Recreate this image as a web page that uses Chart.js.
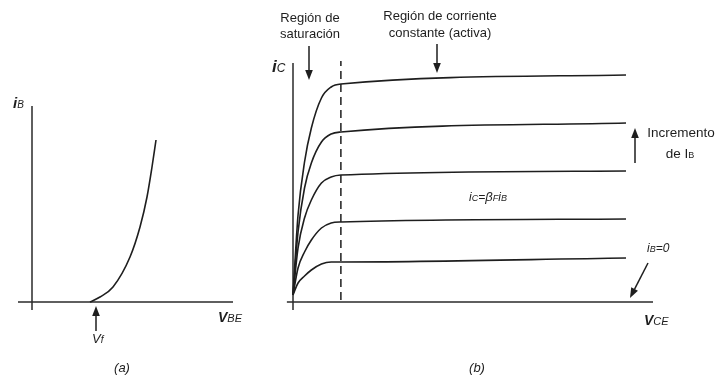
<!DOCTYPE html>
<html>
<head>
<meta charset="utf-8">
<title>Curvas del transistor BJT</title>
<script src="https://cdn.jsdelivr.net/npm/chart.js@4.4.1/dist/chart.umd.min.js"></script>
<style>
    html, body { margin: 0; padding: 0; background: #fff; }
    #wrap { position: relative; width: 719px; height: 377px; }
    #wrap canvas { position: absolute; left: 0; top: 0; }
</style>
</head>
<body>
<div id="wrap">
    <canvas id="chartA" width="719" height="377"></canvas>
    <canvas id="chartB" width="719" height="377"></canvas>
</div>
<script>
// (a) curva de entrada iB - vBE
const vbe = [5.8, 6.8, 8.1, 9.8, 10.8, 11.5, 12.0, 12.4];
const ib = [0, 0.5, 1.5, 4.5, 7.5, 10.5, 13.5, 16.2];

// (b) curvas de salida iC - vCE
const vce = [0, 0.14, 0.32, 0.51, 0.79, 1.06, 1.33, 9.25];
const ic1 = [0.7, 8.7, 14.0, 17.4, 20.4, 21.5, 21.8, 22.7];
const ic2 = [0.7, 7.0, 11.4, 13.9, 16.0, 16.8, 17.0, 17.9];
const ic3 = [0.7, 5.4, 8.4, 10.2, 11.9, 12.5, 12.7, 13.1];
const ic4 = [0.7, 3.4, 5.0, 6.2, 7.4, 7.9, 8.0, 8.3];
const ic5 = [0.7, 1.9, 2.6, 3.2, 3.8, 4.0, 4.0, 4.4];
const vceSat = 1.33;

const ink = '#1e1e1e';
const font = '"Liberation Sans", Arial, Helvetica, sans-serif';

function toPoints(xs, ys) {
    return xs.map((x, i) => ({ x: x, y: ys[i] }));
}

function curve(points) {
    return {
        data: points,
        showLine: true,
        borderColor: ink,
        borderWidth: 1.6,
        pointRadius: 0,
        cubicInterpolationMode: 'monotone'
    };
}

function axisLine(points) {
    return {
        data: points,
        showLine: true,
        borderColor: '#2a2a2a',
        borderWidth: 1.5,
        pointRadius: 0,
        tension: 0
    };
}

// text made of pieces with different sizes (subscripts)
function richText(ctx, parts, x, y, align) {
    let w = 0;
    parts.forEach(p => {
        ctx.font = (p[2] || '') + ' ' + p[1] + 'px ' + font;
        w += ctx.measureText(p[0]).width;
    });
    let cx = align === 'center' ? x - w / 2 : x;
    ctx.textAlign = 'left';
    ctx.textBaseline = 'alphabetic';
    ctx.fillStyle = ink;
    parts.forEach(p => {
        ctx.font = (p[2] || '') + ' ' + p[1] + 'px ' + font;
        ctx.fillText(p[0], cx, y);
        cx += ctx.measureText(p[0]).width;
    });
}

function arrow(ctx, x1, y1, x2, y2) {
    const a = Math.atan2(y2 - y1, x2 - x1);
    const len = 10, half = 3.8;
    ctx.save();
    ctx.strokeStyle = ink;
    ctx.fillStyle = ink;
    ctx.lineWidth = 1.5;
    ctx.beginPath();
    ctx.moveTo(x1, y1);
    ctx.lineTo(x2 - len * Math.cos(a), y2 - len * Math.sin(a));
    ctx.stroke();
    ctx.beginPath();
    ctx.moveTo(x2, y2);
    ctx.lineTo(x2 - len * Math.cos(a) + half * Math.sin(a), y2 - len * Math.sin(a) - half * Math.cos(a));
    ctx.lineTo(x2 - len * Math.cos(a) - half * Math.sin(a), y2 - len * Math.sin(a) + half * Math.cos(a));
    ctx.closePath();
    ctx.fill();
    ctx.restore();
}

const baseOptions = (padLeft, padRight, xMin, xMax) => ({
    responsive: false,
    animation: false,
    events: [],
    layout: { padding: { left: padLeft, right: padRight, top: 42, bottom: 55 } },
    scales: {
        x: { type: 'linear', min: xMin, max: xMax, display: false },
        y: { type: 'linear', min: -2, max: 26, display: false }
    },
    plugins: {
        legend: { display: false },
        tooltip: { enabled: false }
    }
});

// Labels (a)
const labelsA = {
    id: 'labelsA',
    afterDraw(chart) {
        const ctx = chart.ctx;
        richText(ctx, [['i', 15, 'italic bold'], ['B', 10, 'italic']], 13, 108, 'left');
        richText(ctx, [['V', 14, 'italic bold'], ['BE', 11, 'italic']], 218, 322, 'left');
        arrow(ctx, 96, 331, 96, 306);
        richText(ctx, [['V', 13, 'italic'], ['f', 10, 'italic']], 92, 343, 'left');
        richText(ctx, [['(a)', 13, 'italic']], 122, 372, 'center');
    }
};

new Chart(document.getElementById('chartA').getContext('2d'), {
    type: 'scatter',
    data: {
        datasets: [
            curve(toPoints(vbe, ib)),
            axisLine([{ x: 0, y: -0.8 }, { x: 0, y: 19.6 }]),
            axisLine([{ x: -1.4, y: 0 }, { x: 20.1, y: 0 }])
        ]
    },
    options: baseOptions(12, 477, -2, 21),
    plugins: [labelsA]
});

// Labels (b)
const labelsB = {
    id: 'labelsB',
    afterDraw(chart) {
        const ctx = chart.ctx;
        richText(ctx, [['Región de', 13]], 310, 22, 'center');
        richText(ctx, [['saturación', 13]], 310, 38, 'center');
        arrow(ctx, 309, 46, 309, 80);
        richText(ctx, [['Región de corriente', 13]], 440, 20, 'center');
        richText(ctx, [['constante (activa)', 13]], 440, 37, 'center');
        arrow(ctx, 437, 44, 437, 73);
        richText(ctx, [['i', 17, 'italic bold'], ['C', 12, 'italic']], 272, 72, 'left');
        arrow(ctx, 635, 163, 635, 128);
        richText(ctx, [['Incremento', 13.5]], 681, 137, 'center');
        richText(ctx, [['de I', 13.5], ['B', 9]], 680, 158, 'center');
        richText(ctx, [['i', 12, 'italic'], ['C', 9, 'italic'], ['=', 12, 'italic'], ['β', 13, 'italic'],
            ['F', 9, 'italic'], ['i', 12, 'italic'], ['B', 9, 'italic']], 488, 201, 'center');
        richText(ctx, [['i', 12, 'italic'], ['B', 9, 'italic'], ['=0', 12, 'italic']], 647, 252, 'left');
        arrow(ctx, 648, 263, 630, 298);
        richText(ctx, [['V', 14, 'italic bold'], ['CE', 11, 'italic']], 644, 325, 'left');
        richText(ctx, [['(b)', 13, 'italic']], 477, 372, 'center');
    }
};

new Chart(document.getElementById('chartB').getContext('2d'), {
    type: 'scatter',
    data: {
        datasets: [
            curve(toPoints(vce, ic1)),
            curve(toPoints(vce, ic2)),
            curve(toPoints(vce, ic3)),
            curve(toPoints(vce, ic4)),
            curve(toPoints(vce, ic5)),
            axisLine([{ x: 0, y: -0.8 }, { x: 0, y: 23.9 }]),
            axisLine([{ x: -0.17, y: 0 }, { x: 10, y: 0 }]),
            {
                data: [{ x: vceSat, y: 0.2 }, { x: vceSat, y: 24.1 }],
                showLine: true,
                borderColor: ink,
                borderWidth: 1.5,
                borderDash: [8, 5],
                pointRadius: 0
            }
        ]
    },
    options: baseOptions(275, 30, -0.5, 11),
    plugins: [labelsB]
});
</script>
</body>
</html>
